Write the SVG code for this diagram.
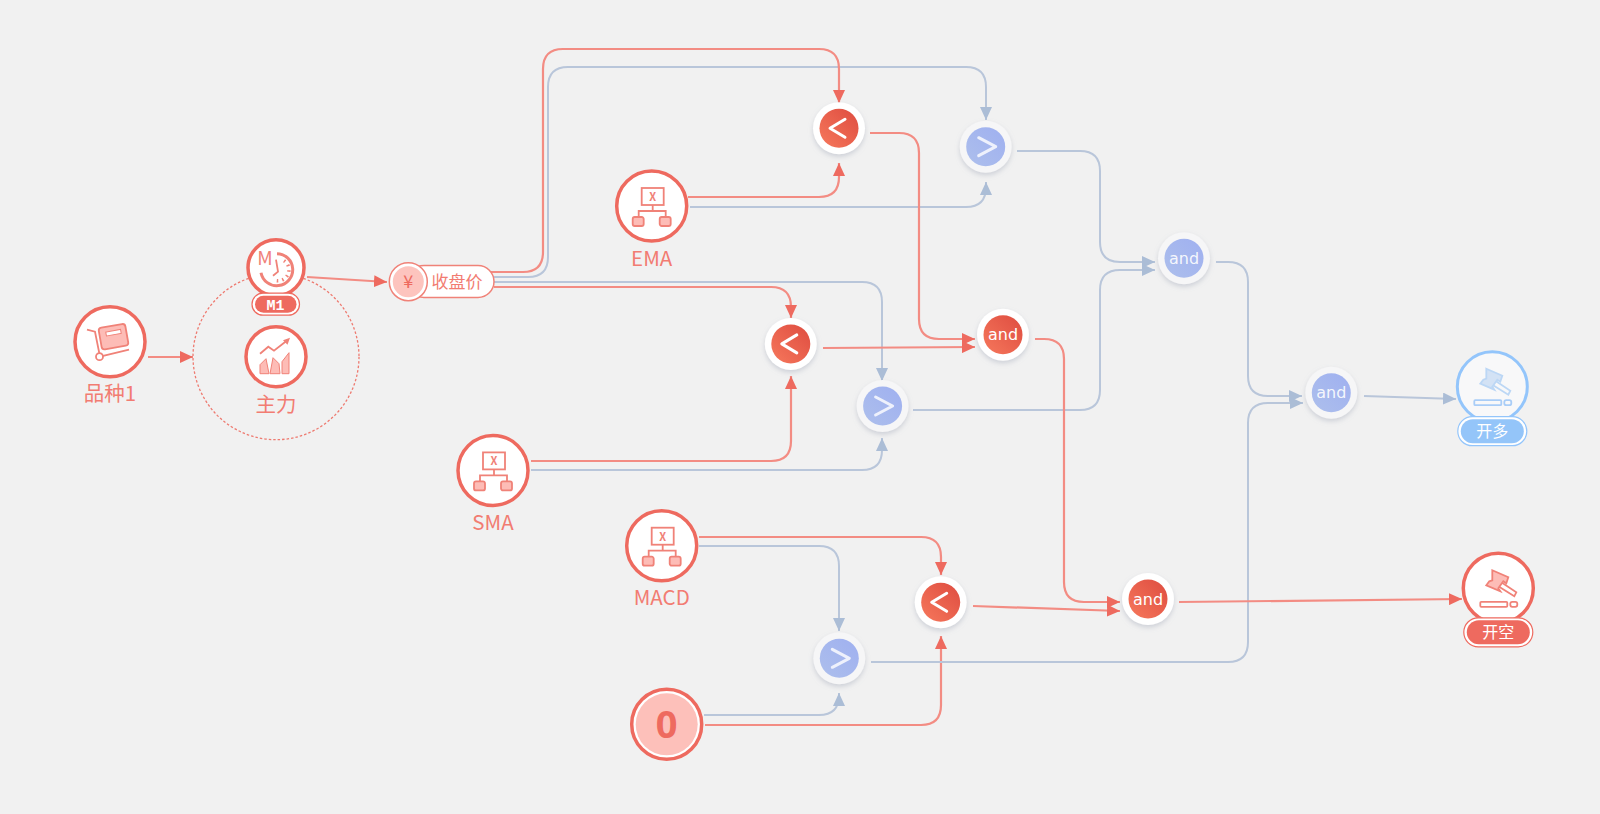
<svg xmlns="http://www.w3.org/2000/svg" xmlns:xlink="http://www.w3.org/1999/xlink" width="1600" height="814" viewBox="0 0 1600 814">
<style>
text{font-family:"Noto Sans CJK SC","Noto Sans",sans-serif;text-anchor:middle}
.n{fill:#fff;stroke:#ee6a5f;stroke-width:3.5}
.lb{fill:#f27c72;font-size:20.500px}
.ic{fill:none;stroke:#f08278;stroke-width:1.8}
.pk{fill:#fdbcb6;stroke:#f08278;stroke-width:1.8}
.r{fill:none;stroke:#f38c83;stroke-width:2.2}
.b{fill:none;stroke:#b9c6da;stroke-width:2}
.op{fill:#fff;filter:url(#sh)}
.opb{fill:#f6f6f7;filter:url(#sh)}
.ot{fill:#fff;font-size:16px;font-family:"DejaVu Sans",sans-serif}
.sym{fill:none;stroke:#fff;stroke-width:3;stroke-linecap:round;stroke-linejoin:round}
.symb{fill:none;stroke:#eef1fc;stroke-width:3;stroke-linecap:round;stroke-linejoin:round}
</style>
<defs>
<filter id="sh" x="-30%" y="-30%" width="160%" height="160%"><feDropShadow dx="0" dy="2.500" stdDeviation="2.500" flood-color="#8a93a8" flood-opacity=".35"/></filter>
<linearGradient id="gr" x1="0" y1="1" x2="1" y2="0"><stop offset="0" stop-color="#f6785c"/><stop offset="1" stop-color="#de4c40"/></linearGradient>
<linearGradient id="gb" x1="0" y1="1" x2="1" y2="0"><stop offset="0" stop-color="#adbfec"/><stop offset="1" stop-color="#9fb0f0"/></linearGradient>
<marker id="ar" markerUnits="userSpaceOnUse" markerWidth="14" markerHeight="12" refX="13" refY="6" orient="auto"><path d="M0 0L13 6L0 12z" fill="#ee6a5f"/></marker>
<marker id="ab" markerUnits="userSpaceOnUse" markerWidth="14" markerHeight="12" refX="13" refY="6" orient="auto"><path d="M0 0L13 6L0 12z" fill="#abbdd6"/></marker>
<g id="fx">
<rect class="ic" x="-10" y="-18" width="22" height="17"/>
<path class="ic" d="M1-1V5M-13 11V5H14V11"/>
<rect class="pk" x="-19" y="11" width="11" height="9" rx="2"/><rect class="pk" x="8" y="11" width="11" height="9" rx="2"/>
<text x="1" y="-5" font-size="11" fill="#f08278" font-weight="bold">X</text>
</g>
<g id="gv">
<path class="ic" d="M3-6L18 4L16 8L0-2z"/>
<path class="pk" d="M-6-18L10-11L8-5L5-7L0 0L2 3L-12-3L-9-7L-6-8z"/>
<rect class="ic" x="-18" y="13.500" width="27" height="5" rx="1"/>
<rect class="ic" x="12" y="13.500" width="7" height="5" rx="2"/>
</g>
</defs>
<rect width="1600" height="814" fill="#f1f1f1"/>
<g id="connectors">
<path class="b" d="M486 277H528Q548 277 548 257V87Q548 67 568 67H966Q986 67 986 87V120" marker-end="url(#ab)"/>
<path class="r" d="M486 272H523Q543 272 543 252V69Q543 49 563 49H819Q839 49 839 69V103" marker-end="url(#ar)"/>
<path class="b" d="M494 282H862Q882 282 882 302V381" marker-end="url(#ab)"/>
<path class="r" d="M494 287H771Q791 287 791 307V318" marker-end="url(#ar)"/>
<path class="r" d="M688 197H819Q839 197 839 177V163" marker-end="url(#ar)"/>
<path class="b" d="M690 207H966Q986 207 986 187V182" marker-end="url(#ab)"/>
<path class="r" d="M531 461H771Q791 461 791 441V376" marker-end="url(#ar)"/>
<path class="b" d="M531 470H862Q882 470 882 450V438" marker-end="url(#ab)"/>
<path class="r" d="M699 537H921Q941 537 941 557V575" marker-end="url(#ar)"/>
<path class="b" d="M699 546H819Q839 546 839 566V631" marker-end="url(#ab)"/>
<path class="b" d="M704 715H819Q839 715 839 695V693" marker-end="url(#ab)"/>
<path class="r" d="M705 725H921Q941 725 941 705V636" marker-end="url(#ar)"/>
<path class="b" d="M871 662H1228Q1248 662 1248 642V423Q1248 403 1268 403H1303" marker-end="url(#ab)"/>
<path class="b" d="M1216 262H1228Q1248 262 1248 282V376Q1248 396 1268 396H1302" marker-end="url(#ab)"/>
<path class="b" d="M1364 396L1456 399" marker-end="url(#ab)"/>
<path class="b" d="M1017 151H1080Q1100 151 1100 171V242Q1100 262 1120 262H1155" marker-end="url(#ab)"/>
<path class="b" d="M913 410H1080Q1100 410 1100 390V290Q1100 270 1120 270H1155" marker-end="url(#ab)"/>
<path class="r" d="M870 133H899Q919 133 919 153V319Q919 339 939 339H975" marker-end="url(#ar)"/>
<path class="r" d="M823 348L975 347" marker-end="url(#ar)"/>
<path class="r" d="M1035 339H1044Q1064 339 1064 359V582Q1064 602 1084 602H1120" marker-end="url(#ar)"/>
<path class="r" d="M973 606L1120 611" marker-end="url(#ar)"/>
<path class="r" d="M1179 602L1462 599" marker-end="url(#ar)"/>
<path class="r" d="M307 277L387 282" marker-end="url(#ar)"/>
<path class="r" d="M148 357H193" marker-end="url(#ar)"/>
</g>
<g id="node-pinzhong" transform="translate(110 341.700)">
<circle class="n" r="35"/>
<path class="ic" d="M-23-12L-15-10L-10 15L19 8"/>
<circle cx="-10.500" cy="15" r="3.500" fill="#fff" stroke="#f08278" stroke-width="1.800"/>
<rect class="pk" x="-10" y="-16" width="27" height="22" rx="3" transform="rotate(-10 3.500 -5)"/>
<rect x="-4" y="-11" width="15" height="4" fill="#fff" stroke="#f08278" transform="rotate(-10 3.500 -9)"/>
<text class="lb" x="0" y="59">品种1</text>
</g>
<g id="node-zhuli" transform="translate(276 356.700)">
<circle r="83" fill="none" stroke="#ee7a70" stroke-width="1.300" stroke-dasharray="2.500 2"/>
<circle class="n" r="30"/>
<path class="ic" d="M-16-3L-7.700-10L-2-6L12-17"/><path d="M14-19L7-16.500L11.500-12z" fill="#f08278"/>
<path fill="#fdbcb6" stroke="#f08278" d="M-16 17V8L-10 2L-7 17zM-6 17L-3 1L3 7L4 17zM6 17V5L13-4V17z"/>
<text class="lb" x="0" y="55">主力</text>
</g>
<g id="node-m1" transform="translate(276 267.700)">
<circle class="n" r="28"/>
<path fill="none" stroke="#f08278" stroke-width="3" d="M-15 5A16 16 0 1 0 1-14"/>
<path fill="none" stroke="#f08278" stroke-width="3.500" stroke-dasharray="1.500 4" d="M8-7A11 11 0 0 1 0 13"/>
<path class="ic" d="M0-8L2 4L-3 8"/>
<text x="-11" y="-3" font-size="19" fill="#f08278">M</text>
<rect x="-24" y="25.500" width="47.500" height="22" rx="11" fill="#fff" stroke="#ee6a5f" stroke-width="1.200"/>
<rect x="-21" y="28" width="41.500" height="17" rx="8.500" fill="#ee6a5f"/>
<text x="-.5" y="42" font-size="15" font-weight="bold" fill="#fff" style="font-family:'Liberation Mono',monospace">M1</text>
</g>
<g id="node-close">
<rect x="408" y="265.500" width="86" height="32" rx="16" fill="#fff" stroke="#f08278" stroke-width="1.500"/>
<circle cx="408.300" cy="281.700" r="19" fill="#fff" stroke="#f08278" stroke-width="1.500"/>
<circle cx="408.300" cy="281.700" r="15.500" fill="#fdc4be"/>
<text x="408.300" y="288" font-size="18" fill="#ee6a5f">¥</text>
<text x="457" y="288" font-size="17" fill="#f27c72">收盘价</text>
</g>
<g id="node-ema" transform="translate(651.700 206)">
<circle class="n" r="35"/><use xlink:href="#fx"/><text class="lb" x="0" y="60">EMA</text>
</g>
<g id="node-sma" transform="translate(493 470.400)">
<circle class="n" r="35"/><use xlink:href="#fx"/><text class="lb" x="0" y="60">SMA</text>
</g>
<g id="node-macd" transform="translate(661.700 545.700)">
<circle class="n" r="35"/><use xlink:href="#fx"/><text class="lb" x="0" y="59">MACD</text>
</g>
<g id="node-zero" transform="translate(666.700 724.300)">
<circle class="n" r="35"/><circle r="31" fill="#fdc0ba"/>
<text x="0" y="14" font-size="38" font-weight="bold" fill="#ee6a5f" style="font-family:'Noto Sans',sans-serif">0</text>
</g>
<g id="op-lt-top" transform="translate(839 128.300)"><circle class="op" r="26"/><circle r="19.500" fill="url(#gr)"/><path class="sym" d="M6-9L-9 0L6 9"/></g>
<g id="op-gt-top" transform="translate(985.700 146.700)"><circle class="opb" r="26"/><circle r="19.500" fill="url(#gb)"/><path class="symb" d="M-7-9L10 0L-7 9"/></g>
<g id="op-lt-mid" transform="translate(790.800 343.900)"><circle class="op" r="26"/><circle r="19.500" fill="url(#gr)"/><path class="sym" d="M6-9L-9 0L6 9"/></g>
<g id="op-gt-mid" transform="translate(882.600 406)"><circle class="opb" r="26"/><circle r="19.500" fill="url(#gb)"/><path class="symb" d="M-7-9L10 0L-7 9"/></g>
<g id="op-lt-bot" transform="translate(940.700 602.300)"><circle class="op" r="26"/><circle r="19.500" fill="url(#gr)"/><path class="sym" d="M6-9L-9 0L6 9"/></g>
<g id="op-gt-bot" transform="translate(839.300 658.300)"><circle class="opb" r="26"/><circle r="19.500" fill="url(#gb)"/><path class="symb" d="M-7-9L10 0L-7 9"/></g>
<g id="and-red-top" transform="translate(1003 334.700)"><circle class="op" r="26"/><circle r="19.500" fill="url(#gr)"/><text class="ot" y="5.500">and</text></g>
<g id="and-red-bot" transform="translate(1148 599)"><circle class="op" r="26"/><circle r="19.500" fill="url(#gr)"/><text class="ot" y="5.500">and</text></g>
<g id="and-blue-top" transform="translate(1184 258.300)"><circle class="opb" r="26"/><circle r="19.500" fill="url(#gb)"/><text class="ot" y="5.500" fill-opacity=".9">and</text></g>
<g id="and-blue-out" transform="translate(1331.300 392.700)"><circle class="opb" r="26"/><circle r="19.500" fill="url(#gb)"/><text class="ot" y="5.500" fill-opacity=".9">and</text></g>
<g id="node-long" transform="translate(1492.300 386.700)">
<circle r="35" fill="#f8f8f9" stroke="#93c5fb" stroke-width="3"/>
<path fill="none" stroke="#bcd7f5" stroke-width="1.800" d="M3-6L18 4L16 8L0-2z"/>
<path fill="#d3e2f5" stroke="#bcd7f5" stroke-width="1.800" d="M-6-18L10-11L8-5L5-7L0 0L2 3L-12-3L-9-7L-6-8z"/>
<rect fill="none" stroke="#a9cdf7" stroke-width="1.800" x="-18" y="13.500" width="27" height="5" rx="1"/>
<rect fill="none" stroke="#a9cdf7" stroke-width="1.800" x="12" y="13.500" width="7" height="5" rx="2"/>
<rect x="-34.500" y="30" width="69" height="29" rx="14.500" fill="#fff" stroke="#93c5fb" stroke-width="1.200"/>
<rect x="-31.500" y="32.500" width="63" height="24" rx="12" fill="#94c5f9"/>
<text x="0" y="50.500" font-size="16" fill="#fff">开多</text>
</g>
<g id="node-short" transform="translate(1498.300 588.300)">
<circle class="n" r="35"/><use xlink:href="#gv"/>
<rect x="-34.500" y="29.500" width="69" height="29" rx="14.500" fill="#fff" stroke="#ee6a5f" stroke-width="1.200"/>
<rect x="-31.500" y="32" width="63" height="24" rx="12" fill="#ee6a5f"/>
<text x="0" y="50" font-size="16" fill="#fff">开空</text>
</g>
</svg>
